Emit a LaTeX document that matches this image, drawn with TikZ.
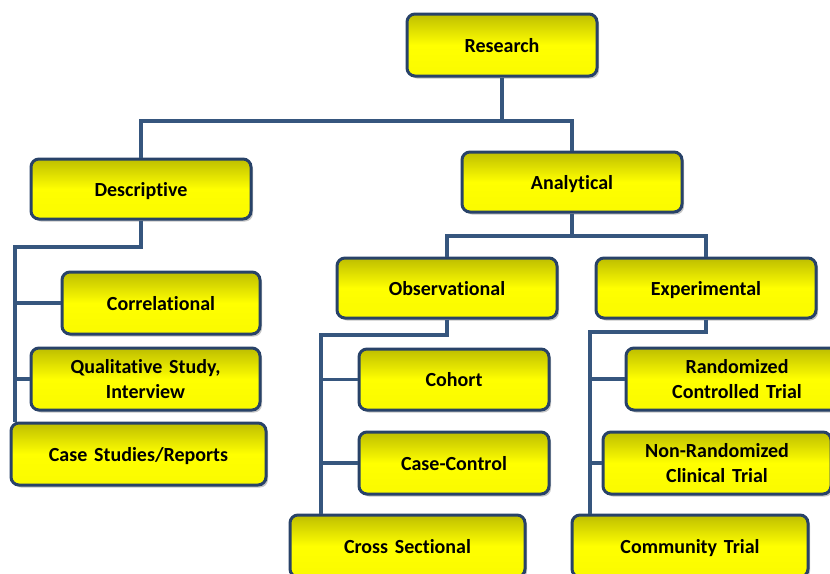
\documentclass[tikz,border=0pt]{standalone}
\usepackage{fontspec}
\setmainfont{Carlito}[RawFeature=-liga, WordSpace=1.5]
\usetikzlibrary{shadows, positioning}

\definecolor{boxline}{RGB}{40,66,104}
\definecolor{linkline}{RGB}{54,86,126}
\definecolor{boxtop}{RGB}{190,190,0}
\definecolor{boxmid}{RGB}{250,250,0}

\tikzset{
	box/.style={draw=boxline, line width=3pt, rounded corners=8pt,
		top color=boxtop, bottom color=boxmid, middle color=yellow,
		drop shadow={shadow xshift=2pt, shadow yshift=-2.5pt, opacity=0.45},
		align=center, inner sep=2pt, text depth=0pt,
		font=\fontsize{20}{25}\selectfont\bfseries},
	link/.style={draw=linkline, line width=3.2pt}
}

\begin{document}
\begin{tikzpicture}[x=1pt, y=-1pt]
		
		\useasboundingbox (0,0) rectangle (830,573);
		\clip (0,0) rectangle (830,573);
		
		% Boxes
		\node[box, minimum width=190pt, minimum height=62pt] (research) at (502,45) {Research};
		\node[box, minimum width=220pt, minimum height=60pt] (desc) at (141,189) {Descriptive};
		\node[box, minimum width=220pt, minimum height=60pt] (analyt) at (572,182) {Analytical};
		
		\node[box, minimum width=198pt, minimum height=62pt] (correl) at (161,303) {Correlational};
		\node[box, minimum width=229pt, minimum height=62pt] (qualit) at (145.5,379) {Qualitative Study,\\Interview};
		\node[box, minimum width=255pt, minimum height=62pt] (cases) at (138.5,454) {Case Studies/Reports};
		
		\node[box, minimum width=220pt, minimum height=60pt] (observ) at (447,288) {Observational};
		\node[box, minimum width=220pt, minimum height=60pt] (experim) at (706,288) {Experimental};
		
		\node[box, minimum width=190pt, minimum height=61pt] (cohort) at (454,379.5) {Cohort};
		\node[box, minimum width=190pt, minimum height=62pt] (casectl) at (454,463) {Case-Control};
		\node[box, minimum width=235pt, minimum height=62pt] (cross) at (407.5,546) {Cross Sectional};
		
		\node[box, minimum width=222pt, minimum height=62pt] (rct) at (737,379) {Randomized\\Controlled Trial};
		\node[box, minimum width=228pt, minimum height=62pt] (nrct) at (717,463) {Non-Randomized\\Clinical Trial};
		\node[box, minimum width=236pt, minimum height=62pt] (commun) at (690,546) {Community Trial};
		
		% Top level
		\coordinate (topbar) at (502,121);
		\draw[link] (research.south) -- (topbar);
		\draw[link] (desc.north) |- (topbar) -| (analyt.north);
		
		% Descriptive branch
		\coordinate (dtrunk) at (15,247);
		\draw[link] (desc.south) |- (dtrunk) -- (dtrunk |- cases.north);
		\draw[link] (dtrunk |- correl.west) -- (correl.west);
		\draw[link] (dtrunk |- qualit.west) -- (qualit.west);
		
		% Analytical branch
		\coordinate (abar) at (572,236);
		\draw[link] (analyt.south) -- (abar);
		\draw[link] (observ.north) |- (abar) -| (experim.north);
		
		% Observational branch
		\coordinate (otrunk) at (321,335);
		\draw[link] (observ.south) |- (otrunk) -- (otrunk |- cross.north);
		\draw[link] (otrunk |- cohort.west) -- (cohort.west);
		\draw[link] (otrunk |- casectl.west) -- (casectl.west);
		
		% Experimental branch
		\coordinate (etrunk) at (590,332);
		\draw[link] (experim.south) |- (etrunk) -- (etrunk |- commun.north);
		\draw[link] (etrunk |- rct.west) -- (rct.west);
		\draw[link] (etrunk |- nrct.west) -- (nrct.west);
		
	\end{tikzpicture}
\end{document}
